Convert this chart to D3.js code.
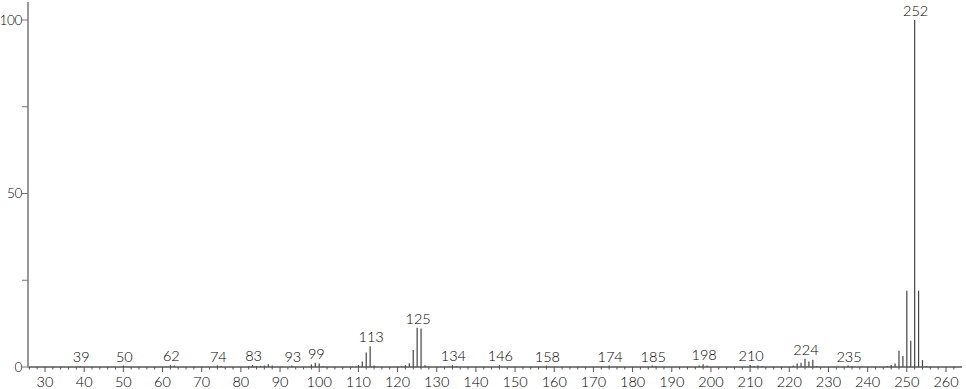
<!DOCTYPE html>
<html><head><meta charset="utf-8">
<script src="https://cdn.jsdelivr.net/npm/d3@7"></script>
<style>
html,body{margin:0;padding:0;background:#fff;}
svg{display:block;}
text{font-family:"Lato","Open Sans",sans-serif;font-weight:300;fill:#000;}
</style></head>
<body>
<svg id="chart" width="966" height="389"></svg>
<script>
// m/z values and relative intensities
const mz = [39,50,61,62,63,74,75,82,83,84,85,86,87,88,93,98,99,100,101,
  110,111,112,113,114,122,123,124,125,126,127,134,135,146,158,174,185,186,
  197,198,199,210,211,212,213,221,222,223,224,225,226,227,235,236,
  245,246,247,248,249,250,251,252,253,254,255];
const intensity = [0.3,0.4,0.2,0.5,0.4,0.4,0.3,0.3,0.6,0.3,0.3,0.4,0.8,0.4,0.4,0.7,1.2,1.0,0.3,
  0.5,1.6,4.2,6.0,0.4,0.5,1.1,4.9,11.3,11.1,0.5,0.5,0.3,0.5,0.4,0.4,0.4,0.3,
  0.4,0.8,0.4,0.6,0.3,0.4,0.3,0.4,1.0,1.2,2.4,1.6,2.1,0.3,0.4,0.3,
  0.3,0.6,1.0,4.7,3.2,22,7.6,100,22,2.0,0.3];
const peakLabels = [39,50,62,74,83,93,99,113,125,134,146,158,174,185,198,210,224,235,252];
const xMajorTicks = [30,40,50,60,70,80,90,100,110,120,130,140,150,160,170,180,190,200,210,220,230,240,250,260];
const yTicks = [0,25,50,75,100];
const yTickLabels = ["0","","50","","100"];

const svg = d3.select("#chart");
const x = d3.scaleLinear().domain([30,260]).range([45,946]);
const y = d3.scaleLinear().domain([0,100]).range([367,20]);

const data = mz.map((m,i)=>({mz:m, v:intensity[i]}));

// peaks
svg.append("g").selectAll("line").data(data).join("line")
  .attr("x1",d=>x(d.mz)).attr("x2",d=>x(d.mz))
  .attr("y1",y(0)).attr("y2",d=>y(d.v))
  .attr("stroke","#444").attr("stroke-width",1.2);

// x axis
const minor = d3.range(26,264,2).filter(v=>v%10!==0);
const gx = svg.append("g").attr("transform",`translate(0,${y(0)})`);
gx.append("line").attr("x1",28).attr("x2",962).attr("y1",0).attr("y2",0)
  .attr("stroke","#555").attr("stroke-width",1.5);
gx.selectAll(".mn").data(minor).join("line").attr("class","mn")
  .attr("x1",d=>x(d)).attr("x2",d=>x(d)).attr("y1",0).attr("y2",2.5)
  .attr("stroke","#555").attr("stroke-width",1);
gx.selectAll(".mj").data(xMajorTicks).join("line").attr("class","mj")
  .attr("x1",d=>x(d)).attr("x2",d=>x(d)).attr("y1",0).attr("y2",5)
  .attr("stroke","#555").attr("stroke-width",1);
gx.selectAll("text").data(xMajorTicks).join("text")
  .attr("x",d=>x(d)).attr("y",20).attr("text-anchor","middle")
  .attr("font-size","14.5px").text(d=>d);

// y axis
const gy = svg.append("g").attr("transform","translate(28,0)");
gy.append("line").attr("x1",0).attr("x2",0).attr("y1",y(0)+0.5).attr("y2",2)
  .attr("stroke","#999").attr("stroke-width",2);
gy.selectAll(".yt").data(yTicks).join("line").attr("class","yt")
  .attr("x1",-6).attr("x2",0).attr("y1",d=>y(d)).attr("y2",d=>y(d))
  .attr("stroke","#777").attr("stroke-width",1);
gy.selectAll("text").data(yTicks).join("text")
  .attr("x",-6).attr("y",d=>y(d)).attr("dy","0.36em").attr("text-anchor","end")
  .attr("font-size","13.5px").attr("letter-spacing","-0.3px").text((d,i)=>yTickLabels[i]);

// peak labels
const lab = data.filter(d=>peakLabels.includes(d.mz));
svg.append("g").selectAll("text").data(lab).join("text")
  .attr("x",d=>x(d.mz)+1).attr("y",d=>y(d.v)-4).attr("text-anchor","middle")
  .attr("font-size","14.5px").text(d=>d.mz);
</script>
</body></html>
